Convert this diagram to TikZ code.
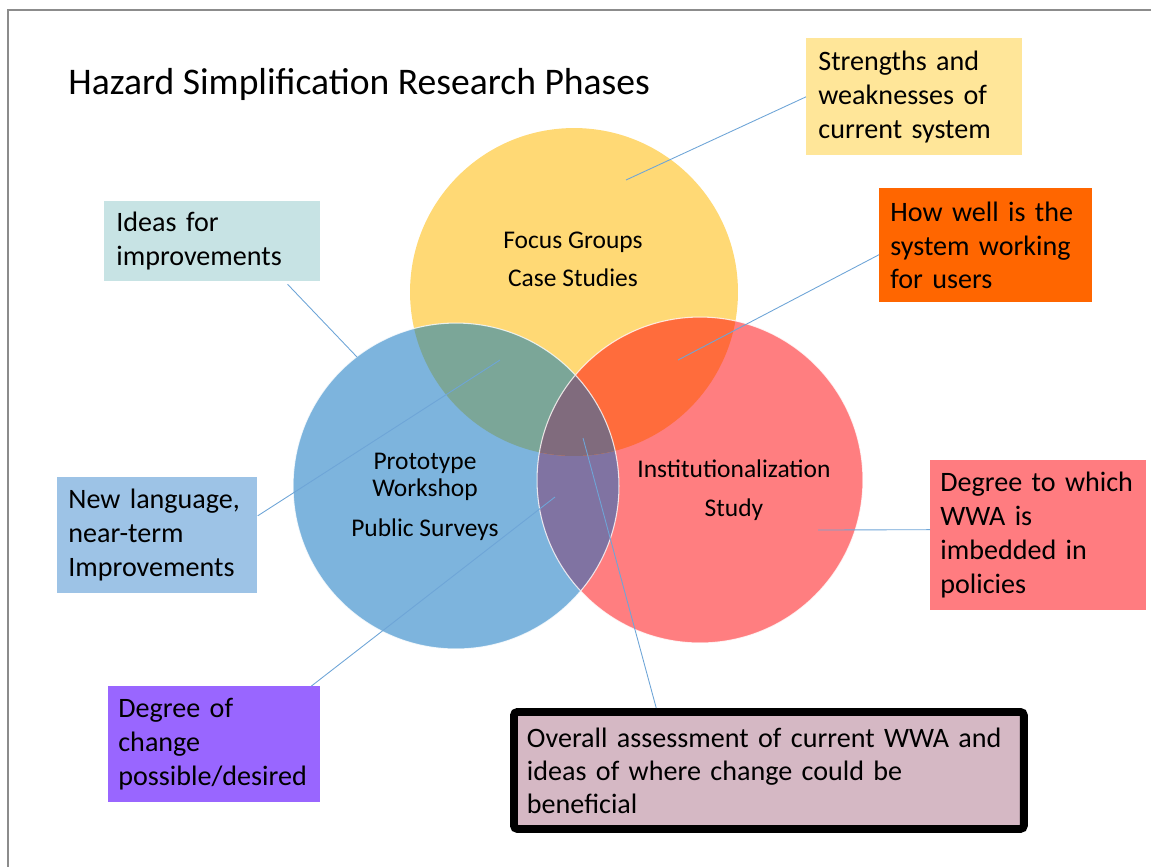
\documentclass[tikz,border=0pt]{standalone}
\usepackage{fontspec}
\setmainfont{Carlito}

\definecolor{framegray}{RGB}{140,140,140}
\definecolor{focusyellow}{RGB}{255,217,117}
\definecolor{protoblue}{RGB}{125,180,221}
\definecolor{instred}{RGB}{255,126,128}
\definecolor{yellowbluemix}{RGB}{123,166,152}
\definecolor{yellowredmix}{RGB}{255,108,60}
\definecolor{blueredmix}{RGB}{128,115,162}
\definecolor{allmix}{RGB}{128,107,125}
\definecolor{linkblue}{RGB}{110,165,215}
\definecolor{strengthfill}{RGB}{255,230,153}
\definecolor{howfill}{RGB}{255,102,0}
\definecolor{ideasfill}{RGB}{199,227,228}
\definecolor{langfill}{RGB}{157,195,230}
\definecolor{policyfill}{RGB}{255,124,128}
\definecolor{changefill}{RGB}{153,102,255}
\definecolor{overallfill}{RGB}{213,184,196}

\begin{document}
\begin{tikzpicture}[x=0.02cm,y=-0.02cm,
  note/.style={rectangle, anchor=north west, align=left, inner xsep=0.24cm, inner ysep=0pt,
    font=\fontsize{16}{19.3}\selectfont},
  phase/.style={align=center, inner sep=0pt, font=\fontsize{14.5}{15.5}\selectfont},
  conn/.style={draw=linkblue, line width=0.5pt}]

%marco de la figura
\useasboundingbox (0,0) rectangle (1151,867);
\draw [framegray, line width=0.7pt] (1151,10) -- (8,10) -- (8,867);

%centros de los circulos
\coordinate (yc) at (574,292);
\coordinate (bc) at (456,486);
\coordinate (rc) at (700,480);

%circulos
\fill [focusyellow] (yc) circle (3.28cm);
\fill [protoblue] (bc) circle (3.26cm);
\fill [instred] (rc) circle (3.26cm);

%intersecciones
\begin{scope}
  \clip (bc) circle (3.26cm);
  \fill [blueredmix] (rc) circle (3.26cm);
\end{scope}
\begin{scope}
  \clip (yc) circle (3.28cm);
  \fill [yellowbluemix] (bc) circle (3.26cm);
  \fill [yellowredmix] (rc) circle (3.26cm);
  \clip (bc) circle (3.26cm);
  \fill [allmix] (rc) circle (3.26cm);
\end{scope}
\draw [white, line width=0.6pt, opacity=0.8] (bc) circle (3.26cm) (rc) circle (3.26cm);

%titulo
\node [anchor=west, inner sep=0pt, font=\fontsize{21.4}{25}\selectfont] (title) at (68,84)
  {Hazard Simplification Research Phases};

%nombres de las fases
\node [phase] (focus) at (573,259) {Focus Groups\\[6pt]Case Studies};
\node [phase] (proto) at (425,497) {Prototype\\Workshop\\[7pt]Public Surveys};
\node [phase] (inst) at (734,490) {Institutionalization\\[7pt]Study};

%cuadros de texto
\node [note, fill=strengthfill, text width=3.84cm, minimum height=2.34cm] (strengths) at (806,38)
  {Strengths and\\weaknesses of\\current system};
\node [note, fill=howfill, text width=3.82cm, minimum height=2.28cm, inner xsep=0.22cm] (howwell) at (879,188)
  {How well is the\\system working\\for users};
\node [note, fill=ideasfill, text width=3.84cm, minimum height=1.6cm] (ideas) at (104,201)
  {Ideas for\\improvements};
\node [note, fill=langfill, text width=3.56cm, minimum height=2.32cm, inner xsep=0.22cm] (newlang) at (57,477)
  {New language,\\near-term\\Improvements};
\node [note, fill=policyfill, text width=3.92cm, minimum height=3cm, inner xsep=0.2cm] (policies) at (930,460)
  {Degree to which\\WWA is\\imbedded in\\policies};
\node [note, fill=changefill, text width=3.84cm, minimum height=2.32cm, inner xsep=0.2cm] (change) at (108,686)
  {Degree of\\change\\possible/desired};
\node [note, fill=overallfill, draw=black, line width=4.5pt, rounded corners=2pt,
  text width=9.68cm, minimum height=2.34cm, inner xsep=0.26cm, font=\fontsize{16}{18.8}\selectfont] (overall) at (510,708)
  {Overall assessment of current WWA and\\ideas of where change could be\\beneficial};

%puntos dentro de los circulos
\coordinate (p1) at (626,180);
\coordinate (p2) at (678,360);
\coordinate (p3) at (357,357);
\coordinate (p4) at (500,360);
\coordinate (p5) at (818,530);
\coordinate (p6) at (555,497);
\coordinate (p7) at (583,438);

%lineas de conexion
\draw [conn] (strengths.west) -- (p1);
\draw [conn] (howwell.185) -- (p2);
\draw [conn, shorten <=2pt] (ideas.-29) -- (p3);
\draw [conn] (newlang.11) -- (p4);
\draw [conn] (policies.177) -- (p5);
\draw [conn] (change.31) -- (p6);
\draw [conn] (overall.151) -- (p7);
\end{tikzpicture}
\end{document}
